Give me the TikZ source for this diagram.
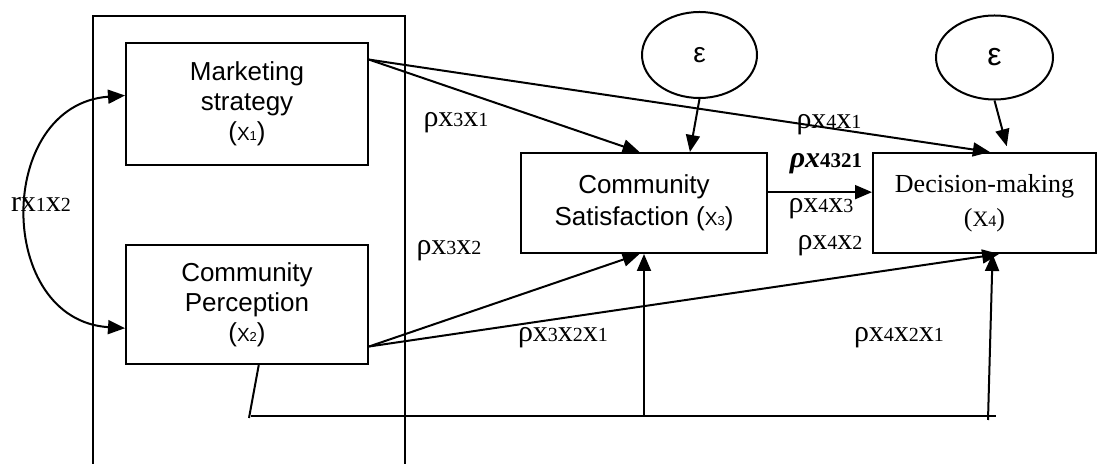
\documentclass[tikz,border=0pt]{standalone}
\usepackage{fontspec}
\setmainfont{Liberation Serif}
\setsansfont{Liberation Sans}
\usetikzlibrary{arrows.meta,shapes.geometric}

\begin{document}
\begin{tikzpicture}[x=0.5pt,y=-0.5pt,line width=1pt,
	varbox/.style={draw,rectangle,inner sep=0pt,align=center,font=\sffamily\fontsize{13}{15}\selectfont},
	errnode/.style={draw,ellipse,inner sep=0pt,font=\sffamily\fontsize{14}{16}\selectfont},
	arrowline/.style={-{Triangle[length=8.5pt,width=7pt]}},
	corrline/.style={{Triangle[length=8.5pt,width=7pt]}-{Triangle[length=8.5pt,width=7pt]}},
	coef/.style={inner sep=0pt,anchor=base,font=\fontsize{15}{17}\selectfont}]
	\newcommand{\vx}[1]{({\fontsize{9.5}{11}\selectfont X{\fontsize{6.5}{8}\selectfont #1}})}
	\newcommand{\dg}[1]{{\fontsize{10}{11}\selectfont #1}}
	
	\useasboundingbox (0,0) rectangle (1098,464);	% page
	\draw (93,464) -- (93,16) -- (405,16) -- (405,464);	% frame round x1 and x2
	
	% variables
	\node[varbox,minimum width=121pt,minimum height=61pt] (ms) at (247,104) {Marketing\\strategy\\\vx{1}};
	\node[varbox,minimum width=121pt,minimum height=59.5pt] (cp) at (247,304.5) {Community\\Perception\\\vx{2}};
	\node[varbox,minimum width=123pt,minimum height=50pt,font=\sffamily\fontsize{13}{16}\selectfont] (cs) at (644,203) {Community\\Satisfaction \vx{3}};
	\node[varbox,minimum width=111.5pt,minimum height=50pt,font=\fontsize{13}{17}\selectfont] (dm) at (984.5,203) {Decision-making\\({\fontsize{11}{13}\selectfont X{\fontsize{8}{9}\selectfont 4}})};
	
	% error terms
	\node[errnode,minimum width=57.5pt,minimum height=43pt] (e1) at (699.5,55) {ε};
	\node[errnode,minimum width=58.5pt,minimum height=42pt,font=\sffamily\fontsize{16}{18}\selectfont] (e2) at (994.5,57.5) {ε};
	
	% correlation
	\draw[corrline] (ms.176) .. controls (-5,105) and (-5,320) .. (cp.191);
	
	% paths
	\draw[arrowline] (ms.20) -- (cs.95);
	\draw[arrowline] (ms.20) -- (dm.84);
	\draw[arrowline] (e1.south) -- (cs.48);
	\draw[arrowline,shorten >=3pt] (e2.south) -- (dm.65);
	\draw[arrowline] (cs.5) -- (cs.5 -| dm.west);
	\draw[arrowline] (cp.-19) -- (cs.265);
	\draw[arrowline] (cp.-19) -- (dm.-74);
	
	% indirect paths below
	\coordinate (b0) at (249,418);
	\coordinate (bl) at (251,416);
	\coordinate (br) at (996,416);
	\coordinate (b2) at (988,420);
	\draw (cp.-79) -- (b0);
	\draw (bl) -- (br);
	\draw[arrowline] (cs.south |- bl) -- (cs.south);
	\draw[arrowline] (b2) -- (dm.-81);
	
	% coefficients
	\node[coef] (r12) at (41,212) {rx\dg{1}x\dg{2}};
	\node[coef] (p31) at (456,127) {ρx\dg{3}x\dg{1}};
	\node[coef] (p32) at (449,255) {ρx\dg{3}x\dg{2}};
	\node[coef] (p41) at (829,129) {ρx\dg{4}x\dg{1}};
	\node[coef] (p4321) at (826,168) {{\bfseries\itshape ρx}{\fontsize{10.5}{12}\selectfont\bfseries 4321}};
	\node[coef] (p43) at (821,213) {ρx\dg{4}x\dg{3}};
	\node[coef] (p42) at (830,250) {ρx\dg{4}x\dg{2}};
	\node[coef] (p321) at (563,342) {ρx\dg{3}x\dg{2}x\dg{1}};
	\node[coef] (p421) at (899,342) {ρx\dg{4}x\dg{2}x\dg{1}};
\end{tikzpicture}
\end{document}
